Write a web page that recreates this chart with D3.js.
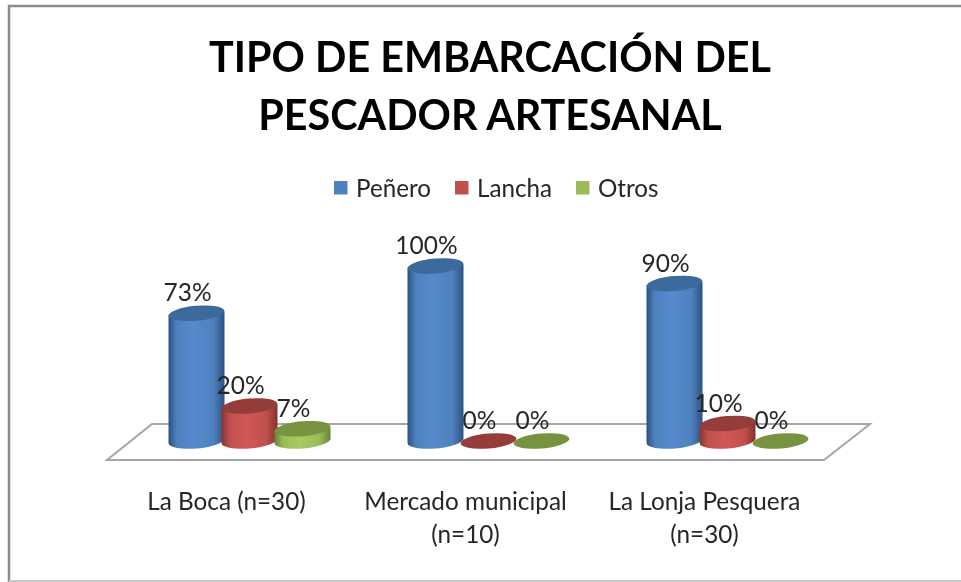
<!DOCTYPE html>
<html>
<head>
<meta charset="utf-8">
<script src="https://cdn.jsdelivr.net/npm/d3@7/dist/d3.min.js"></script>
<style>
html,body{margin:0;padding:0;background:#fff}
svg{display:block}
text{font-family:Lato,"Open Sans",sans-serif;fill:#262626}
</style>
</head>
<body>
<div id="chart"></div>
<script>
const titleLines = ["TIPO DE EMBARCACIÓN DEL", "PESCADOR ARTESANAL"];
const categories = ["La Boca (n=30)", "Mercado municipal (n=10)", "La Lonja Pesquera (n=30)"];
const categoryLines = [["La Boca (n=30)"], ["Mercado municipal", "(n=10)"], ["La Lonja Pesquera", "(n=30)"]];
const series = ["Peñero", "Lancha", "Otros"];
const penero = [73, 100, 90];
const lancha = [20, 0, 10];
const otros = [7, 0, 0];
const seriesValues = [penero, lancha, otros];
const colors = ["#4f81bd", "#c0504d", "#9bbb59"];
const darkEdge = ["#2a5283", "#843331", "#688238"];
const lightMid = ["#558ace", "#d05855", "#a8cb60"];
const topColors = ["#3d6a9c", "#943d3b", "#78933f"];

const W = 961, H = 582;
const svg = d3.select("#chart").append("svg").attr("width", W).attr("height", H);
const defs = svg.append("defs");

defs.append("filter").attr("id", "soft").attr("x", "-5%").attr("y", "-5%").attr("width", "110%").attr("height", "110%")
  .append("feGaussianBlur").attr("stdDeviation", 0.5);

series.forEach((s, i) => {
  const g = defs.append("linearGradient").attr("id", "grad" + i);
  [[0, darkEdge[i]], [0.15, colors[i]], [0.45, lightMid[i]], [0.8, colors[i]], [1, darkEdge[i]]]
    .forEach(([o, c]) => g.append("stop").attr("offset", o).attr("stop-color", c));
});

const root = svg.append("g").attr("filter", "url(#soft)");

// Chart frame
root.append("path")
  .attr("d", "M9,582V6H961").attr("fill", "none").attr("stroke", "#8c8c8c").attr("stroke-width", 2.5);
root.append("line").attr("x1", 9).attr("x2", 961).attr("y1", 581).attr("y2", 581)
  .attr("stroke", "#c8c8c8").attr("stroke-width", 2);

// Title
root.selectAll("text.title").data(titleLines).join("text").attr("class", "title")
  .attr("x", 490).attr("y", (d, i) => 72 + i * 58)
  .attr("text-anchor", "middle").attr("font-size", 41.3).attr("font-weight", 700)
  .style("fill", "#000").text(d => d);

// Scales
const x = d3.scaleBand().domain(categories).range([130, 847]);
const xInner = d3.scaleBand().domain(series).range([-79.5, 79.5]);
const y = d3.scaleLinear().domain([0, 100]).range([441, 266]);
const rx = 28, ry = 7.5, tilt = -5;
const tiltDy = 1.8;

// Floor
const floorBack = y(0) - 17, floorFront = y(0) + 19;
root.append("path")
  .attr("d", `M${x.range()[0] + 22},${floorBack}H870L824,${floorFront}H107Z`)
  .attr("fill", "#fff").attr("stroke", "#a6a6a6").attr("stroke-width", 2);

// Legend
const legendX = [334, 455, 576];
const legend = root.selectAll("g.legend").data(series).join("g").attr("class", "legend")
  .attr("transform", (d, i) => `translate(${legendX[i]},181)`);
legend.append("rect").attr("width", 13.5).attr("height", 13.5).attr("fill", (d, i) => colors[i]);
legend.append("text").attr("x", 22).attr("y", 15.5).attr("font-size", 24.2).text(d => d);

// Cylinders
const points = [];
series.forEach((s, si) => {
  categories.forEach((c, ci) => {
    points.push({ s, si, c, ci, v: seriesValues[si][ci],
      cx: x(c) + x.bandwidth() / 2 + xInner(s) + xInner.bandwidth() / 2 });
  });
});

const bars = root.selectAll("g.bar").data(points).join("g").attr("class", "bar");
bars.filter(d => d.v > 0).append("ellipse")
  .attr("cx", d => d.cx).attr("cy", y(0)).attr("rx", rx).attr("ry", ry)
  .attr("transform", d => `rotate(${tilt} ${d.cx} ${y(0)})`)
  .attr("fill", d => `url(#grad${d.si})`);
bars.filter(d => d.v > 0).append("path")
  .attr("d", d => `M${d.cx - rx},${y(d.v) + tiltDy}L${d.cx + rx},${y(d.v) - tiltDy}L${d.cx + rx},${y(0) - tiltDy}L${d.cx - rx},${y(0) + tiltDy}Z`)
  .attr("fill", d => `url(#grad${d.si})`);
bars.append("ellipse")
  .attr("cx", d => d.cx).attr("cy", d => y(d.v)).attr("rx", rx).attr("ry", ry)
  .attr("transform", d => `rotate(${tilt} ${d.cx} ${y(d.v)})`)
  .attr("fill", d => topColors[d.si]);

// Data labels
root.selectAll("text.value").data(points).join("text").attr("class", "value")
  .attr("x", d => d.cx - 9).attr("y", d => y(d.v) - 12)
  .attr("text-anchor", "middle").attr("font-size", 24.5).text(d => d.v + "%");

// Category labels
const cat = root.selectAll("text.cat").data(categories).join("text").attr("class", "cat")
  .attr("text-anchor", "middle").attr("font-size", 24.3);
cat.selectAll("tspan").data((d, i) => categoryLines[i].map(t => ({ t, d }))).join("tspan")
  .attr("x", d => x(d.d) + x.bandwidth() / 2 - 23)
  .attr("y", (d, i) => 510 + i * 33)
  .text(d => d.t);
</script>
</body>
</html>
